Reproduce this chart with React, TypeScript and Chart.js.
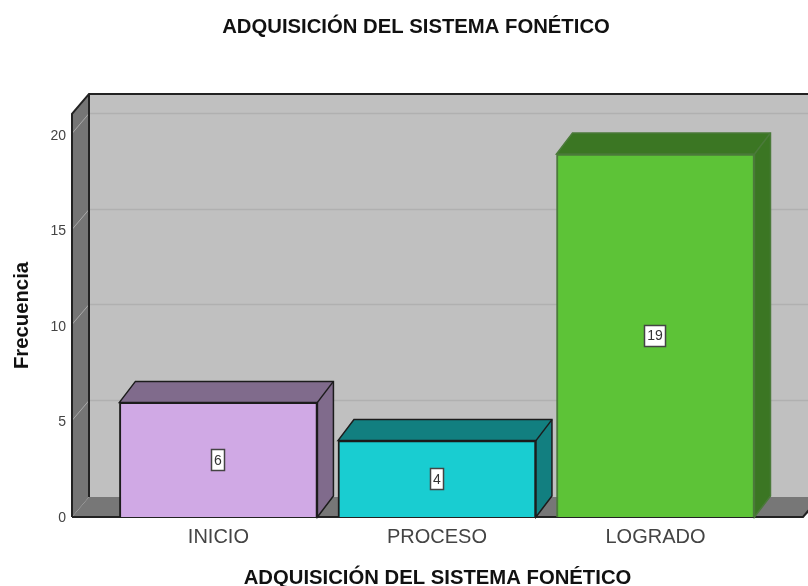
import React, { useEffect, useRef } from "react";
import { Chart, registerables } from "chart.js";

Chart.register(...registerables);

const categories = ["INICIO", "PROCESO", "LOGRADO"];
const positions = [0, 1, 2];
const frecuencias = [6, 4, 19];
const yTicks = [0, 5, 10, 15, 20];
const frontColors = ["#d0a9e5", "#19cdd1", "#5dc337"];
const sideColors = ["#806b8c", "#127f80", "#3b7623"];
const borderColors = ["#1c1c1c", "#1c1c1c", "#4b7a3a"];
const titleText = "ADQUISICIÓN DEL SISTEMA FONÉTICO";
const yTitle = "Frecuencia";
const FONT = "'Liberation Sans', Arial, sans-serif";

const WALL_DX = 17;
const WALL_DY = -20;
const BAR_DX = 16;
const BAR_DY = -21;

const scene3d = {
  id: "scene3d",
  beforeDatasetsDraw(chart: any) {
    const { ctx, chartArea: a, scales } = chart;
    const W = chart.width;
    const bx = a.left + WALL_DX;
    const by = a.bottom + WALL_DY;
    const ty = a.top + WALL_DY;
    ctx.save();
    ctx.fillStyle = "#c0c0c0";
    ctx.fillRect(bx, ty, W - bx, by - ty);
    ctx.fillStyle = "#757575";
    ctx.beginPath();
    ctx.moveTo(a.left, a.bottom);
    ctx.lineTo(a.left, a.top);
    ctx.lineTo(bx, ty);
    ctx.lineTo(bx, by);
    ctx.closePath();
    ctx.fill();
    ctx.fillStyle = "#777777";
    ctx.beginPath();
    ctx.moveTo(a.left, a.bottom);
    ctx.lineTo(bx, by);
    ctx.lineTo(W + 20, by);
    ctx.lineTo(a.right + 0, a.bottom);
    ctx.closePath();
    ctx.fill();
    for (const v of yTicks) {
      const y = Math.floor(scales.y.getPixelForValue(v)) - 0.5;
      if (v > 0) {
        ctx.strokeStyle = "#a9a9a9";
        ctx.lineWidth = 1;
        ctx.beginPath();
        ctx.moveTo(a.left, y);
        ctx.lineTo(bx, y + WALL_DY);
        ctx.stroke();
        ctx.strokeStyle = "#b0b0b0";
        ctx.lineWidth = 1.6;
        ctx.beginPath();
        ctx.moveTo(bx, y + WALL_DY);
        ctx.lineTo(W, y + WALL_DY);
        ctx.stroke();
      }
    }
    ctx.strokeStyle = "#222222";
    ctx.lineWidth = 2;
    ctx.beginPath();
    ctx.moveTo(a.left, a.bottom);
    ctx.lineTo(a.left, a.top);
    ctx.lineTo(bx, ty);
    ctx.lineTo(W, ty);
    ctx.moveTo(bx, ty);
    ctx.lineTo(bx, by);
    ctx.moveTo(a.left, a.bottom);
    ctx.lineTo(a.right, a.bottom);
    ctx.lineTo(a.right + WALL_DX, by);
    ctx.stroke();
    const meta = chart.getDatasetMeta(0);
    meta.data.forEach((bar: any, i: number) => {
      const l = bar.x - bar.width / 2;
      const r = bar.x + bar.width / 2;
      const t = bar.y;
      const b = bar.base;
      ctx.fillStyle = sideColors[i];
      ctx.strokeStyle = borderColors[i];
      ctx.lineWidth = 1.5;
      ctx.beginPath();
      ctx.moveTo(l, t);
      ctx.lineTo(l + BAR_DX, t + BAR_DY);
      ctx.lineTo(r + BAR_DX, t + BAR_DY);
      ctx.lineTo(r + BAR_DX, b + BAR_DY);
      ctx.lineTo(r, b);
      ctx.lineTo(r, t);
      ctx.closePath();
      ctx.fill();
      ctx.stroke();
      ctx.beginPath();
      ctx.moveTo(r, t);
      ctx.lineTo(r + BAR_DX, t + BAR_DY);
      ctx.stroke();
    });
    ctx.restore();
  },
  afterDatasetsDraw(chart: any) {
    const { ctx } = chart;
    const meta = chart.getDatasetMeta(0);
    ctx.save();
    ctx.font = `14px ${FONT}`;
    ctx.textAlign = "center";
    ctx.textBaseline = "middle";
    meta.data.forEach((bar: any, i: number) => {
      const text = String(frecuencias[i]);
      const w = Math.round(ctx.measureText(text).width) + 6;
      const h = 22;
      const cy = (bar.y + bar.base) / 2;
      const x = Math.round(bar.x - w / 2);
      const y = Math.round(cy - h / 2);
      ctx.fillStyle = "#ffffff";
      ctx.fillRect(x, y, w, h);
      ctx.strokeStyle = "#444444";
      ctx.lineWidth = 1.5;
      ctx.strokeRect(x + 0.5, y + 0.5, w - 1, h - 1);
      ctx.fillStyle = "#333333";
      ctx.fillText(text, x + w / 2, cy + 1);
    });
    ctx.restore();
  },
};

export default function App() {
  const ref = useRef<HTMLCanvasElement>(null);
  useEffect(() => {
    const chart = new Chart(ref.current as HTMLCanvasElement, {
      type: "bar",
      data: {
        datasets: [
          {
            data: positions.map((x, i) => ({ x, y: frecuencias[i] })),
            backgroundColor: frontColors,
            borderColor: borderColors,
            borderWidth: 2,
            barThickness: 198,
          },
        ],
      },
      plugins: [scene3d],
      options: {
        animation: false,
        responsive: false,
        layout: { padding: { left: 29, right: 5, top: 0, bottom: 0 } },
        plugins: {
          legend: { display: false },
          tooltip: { enabled: false },
          title: {
            display: true,
            text: titleText,
            color: "#111111",
            font: { family: FONT, size: 20.3, weight: "bold", lineHeight: 1.2 },
            padding: { top: 15, bottom: 74.6 },
          },
        },
        scales: {
          x: {
            type: "linear",
            min: -0.67,
            max: 2.675,
            offset: false,
            grid: { display: false, drawTicks: false },
            border: { display: false },
            afterBuildTicks: (s: any) => {
              s.ticks = positions.map((value) => ({ value }));
            },
            afterFit: (s: any) => {
              s.height = 69;
            },
            ticks: {
              autoSkip: false,
              maxRotation: 0,
              color: "#444444",
              padding: 8,
              font: { family: FONT, size: 20 },
              callback: (v: any) => categories[v],
            },
            title: {
              display: true,
              text: titleText,
              color: "#111111",
              font: { family: FONT, size: 20.3, weight: "bold" },
              padding: { top: 8, bottom: -5 },
            },
          },
          y: {
            min: 0,
            max: 21.1,
            grid: { display: false, drawTicks: false },
            border: { display: false },
            afterBuildTicks: (s: any) => {
              s.ticks = yTicks.map((value) => ({ value }));
            },
            afterFit: (s: any) => {
              s.width = 43;
            },
            ticks: {
              color: "#444444",
              padding: 6,
              labelOffset: 1,
              font: { family: FONT, size: 14 },
            },
            title: {
              display: true,
              text: yTitle,
              color: "#111111",
              font: { family: FONT, size: 20.3, weight: "bold" },
              padding: { top: -19, bottom: 0 },
            },
          },
        },
      },
    } as any);
    return () => chart.destroy();
  }, []);
  return (
    <div style={{ position: "absolute", left: 0, top: 0, width: 808, height: 586, overflow: "hidden", background: "#fff" }}>
      <canvas ref={ref} width={808} height={586} style={{ display: "block" }} />
    </div>
  );
}
